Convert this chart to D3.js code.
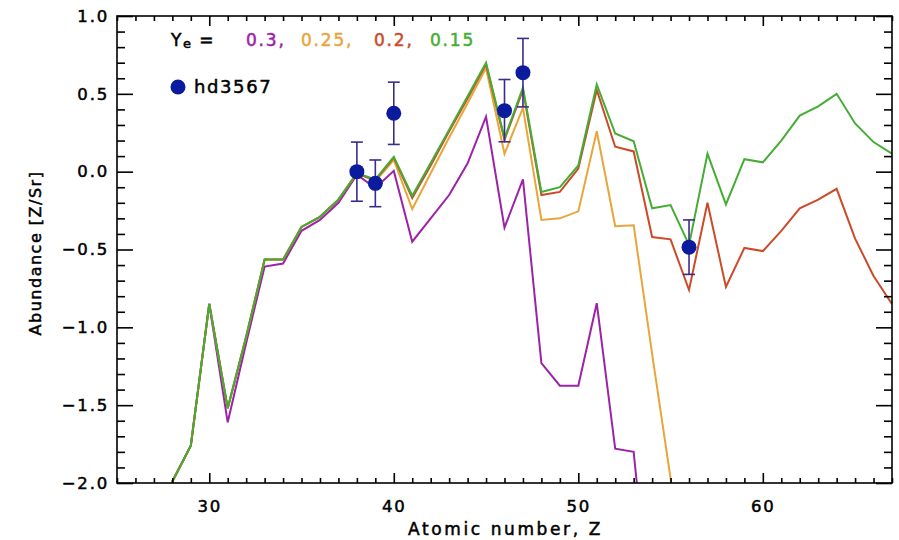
<!DOCTYPE html>
<html>
<head>
<meta charset="utf-8">
<script src="https://cdn.jsdelivr.net/npm/d3@7/dist/d3.min.js"></script>
<style>
  html, body { margin: 0; padding: 0; background: #fff; }
  svg text { font-family: "DejaVu Sans", sans-serif; fill: #000; }
  .heavy { paint-order: stroke; stroke-width: 0.5px; }
</style>
</head>
<body>
<script>
// Atomic number grid shared by all model curves
const atomicNumber = [27, 28, 29, 30, 31, 32, 33, 34, 35, 36, 37, 38, 39, 40, 41, 42, 43, 44, 45, 46, 47,
                      48, 49, 50, 51, 52, 53, 54, 55, 56, 57, 58, 59, 60, 61, 62, 63, 64, 65, 66, 67];

// Model abundance patterns [Z/Sr] for each electron fraction Ye (null = not computed)
const ye030 = [-2.6, -1.99, -1.76, -0.85, -1.61, -1.10, -0.61, -0.59, -0.38, -0.31, -0.20, -0.02, -0.105, 0.005, -0.45, -0.30, -0.15, 0.054, 0.353, -0.36, -0.05,
               -1.23, -1.375, -1.375, -0.845, -1.78, -1.80, -2.98, null, null, null, null, null, null, null, null, null, null, null, null, null];
const ye025 = [-2.6, -1.99, -1.76, -0.85, -1.52, -1.06, -0.565, -0.565, -0.355, -0.29, -0.18, -0.01, -0.06, 0.075, -0.24, -0.01, 0.22, 0.44, 0.665, 0.115, 0.41,
               -0.31, -0.30, -0.255, 0.26, -0.35, -0.345, -1.17, -1.97, -3.0, null, null, null, null, null, null, null, null, null, null, null];
const ye020 = [-2.6, -1.99, -1.76, -0.85, -1.52, -1.06, -0.565, -0.565, -0.355, -0.29, -0.18, -0.01, -0.055, 0.09, -0.17, 0.04, 0.26, 0.47, 0.69, 0.205, 0.525,
               -0.15, -0.13, 0.02, 0.525, 0.16, 0.13, -0.42, -0.435, -0.76, -0.20, -0.74, -0.49, -0.51, -0.38, -0.235, -0.18, -0.11, -0.43, -0.67, -0.85];
const ye015 = [-2.6, -1.99, -1.76, -0.85, -1.52, -1.06, -0.565, -0.565, -0.355, -0.29, -0.18, -0.01, -0.05, 0.095, -0.155, 0.055, 0.27, 0.485, 0.70, 0.215, 0.54,
               -0.13, -0.10, 0.04, 0.56, 0.245, 0.195, -0.235, -0.215, -0.47, 0.115, -0.21, 0.08, 0.06, 0.20, 0.36, 0.42, 0.50, 0.31, 0.19, 0.115];

// Observed abundances of the star hd3567
const obsZ     = [38, 39, 40, 46, 47, 56];
const obsValue = [0.0, -0.075, 0.375, 0.392, 0.636, -0.485];
const obsError = [0.19, 0.15, 0.2, 0.2, 0.22, 0.175];

// Axis ticks and labels
const xMajorTicks = [30, 40, 50, 60];
const yMajorTicks = [1.0, 0.5, 0.0, -0.5, -1.0, -1.5, -2.0];
const yTickLabels = ["1.0", "0.5", "0.0", "\u22120.5", "\u22121.0", "\u22121.5", "\u22122.0"];

const series = [
  { label: "0.3,",  values: ye030, color: "#9c22a8", lx: 246 },
  { label: "0.25,", values: ye025, color: "#e9a53a", lx: 301 },
  { label: "0.2,",  values: ye020, color: "#cc4a28", lx: 374 },
  { label: "0.15",  values: ye015, color: "#45ad35", lx: 430 }
];

const W = 899, H = 540;
const plot = { left: 117, right: 892, top: 16, bottom: 483 };

const x = d3.scaleLinear().domain([25, 67]).range([plot.left, plot.right]);
const y = d3.scaleLinear().domain([-2, 1]).range([plot.bottom, plot.top]);

const svg = d3.select("body").append("svg")
  .attr("width", W).attr("height", H);

svg.append("defs").append("clipPath").attr("id", "plotClip")
  .append("rect")
  .attr("x", plot.left).attr("y", plot.top)
  .attr("width", plot.right - plot.left).attr("height", plot.bottom - plot.top);

// Model curves
const line = d3.line()
  .defined(d => d[1] !== null)
  .x(d => x(d[0]))
  .y(d => y(d[1]));

const curves = svg.append("g").attr("clip-path", "url(#plotClip)");
series.forEach(s => {
  curves.append("path")
    .datum(atomicNumber.map((z, i) => [z, s.values[i]]))
    .attr("d", line)
    .attr("fill", "none")
    .attr("stroke", s.color)
    .attr("stroke-width", 2)
    .attr("stroke-linejoin", "miter");
});

// Observed points with error bars
const obs = obsZ.map((z, i) => ({ z, v: obsValue[i], e: obsError[i] }));
const errColor = "#3d2b8c";
const obsG = svg.append("g");
obsG.selectAll("line.err").data(obs).join("line")
  .attr("x1", d => x(d.z)).attr("x2", d => x(d.z))
  .attr("y1", d => y(d.v + d.e)).attr("y2", d => y(d.v - d.e))
  .attr("stroke", errColor).attr("stroke-width", 1.6);
[1, -1].forEach(sign => {
  obsG.selectAll("line.cap" + sign).data(obs).join("line")
    .attr("x1", d => x(d.z) - 6).attr("x2", d => x(d.z) + 6)
    .attr("y1", d => y(d.v + sign * d.e)).attr("y2", d => y(d.v + sign * d.e))
    .attr("stroke", errColor).attr("stroke-width", 1.6);
});
obsG.selectAll("circle").data(obs).join("circle")
  .attr("cx", d => x(d.z)).attr("cy", d => y(d.v)).attr("r", 7.5)
  .attr("fill", "#0b1b9e");

// Frame with ticks on all four sides
const frame = svg.append("g");
frame.append("rect")
  .attr("x", plot.left).attr("y", plot.top)
  .attr("width", plot.right - plot.left).attr("height", plot.bottom - plot.top)
  .attr("fill", "none").attr("stroke", "#000").attr("stroke-width", 1.6);

const xMinor = d3.range(25, 68, 1).filter(v => !xMajorTicks.includes(v));
const yMinor = d3.range(-20, 11, 1).map(v => v / 10).filter(v => Math.abs(v * 2 - Math.round(v * 2)) > 1e-6);

const bottomAxis = d3.axisBottom(x).tickValues(xMajorTicks).tickFormat(d3.format("d")).tickSize(-10).tickPadding(17);
const topAxis = d3.axisTop(x).tickValues(xMajorTicks).tickFormat("").tickSize(-10);
const bottomMinor = d3.axisBottom(x).tickValues(xMinor).tickFormat("").tickSize(-5);
const topMinor = d3.axisTop(x).tickValues(xMinor).tickFormat("").tickSize(-5);
const leftAxis = d3.axisLeft(y).tickValues(yMajorTicks).tickFormat((d, i) => yTickLabels[i]).tickSize(-16).tickPadding(8);
const rightAxis = d3.axisRight(y).tickValues(yMajorTicks).tickFormat("").tickSize(-16);
const leftMinor = d3.axisLeft(y).tickValues(yMinor).tickFormat("").tickSize(-8);
const rightMinor = d3.axisRight(y).tickValues(yMinor).tickFormat("").tickSize(-8);

function styleAxis(g) {
  g.select(".domain").remove();
  g.selectAll(".tick line").attr("stroke", "#000").attr("stroke-width", 1.6);
  g.selectAll(".tick text").attr("font-size", 16.5).attr("fill", "#000")
    .attr("stroke", "#000").attr("class", "heavy")
    .attr("font-family", "DejaVu Sans, sans-serif").style("letter-spacing", "1.8px");
}

frame.append("g").attr("transform", `translate(0,${plot.bottom})`).call(bottomAxis).call(styleAxis);
frame.append("g").attr("transform", `translate(0,${plot.bottom})`).call(bottomMinor).call(styleAxis);
frame.append("g").attr("transform", `translate(0,${plot.top})`).call(topAxis).call(styleAxis);
frame.append("g").attr("transform", `translate(0,${plot.top})`).call(topMinor).call(styleAxis);
frame.append("g").attr("transform", `translate(${plot.left},0)`).call(leftAxis).call(styleAxis);
frame.append("g").attr("transform", `translate(${plot.left},0)`).call(leftMinor).call(styleAxis);
frame.append("g").attr("transform", `translate(${plot.right},0)`).call(rightAxis).call(styleAxis);
frame.append("g").attr("transform", `translate(${plot.right},0)`).call(rightMinor).call(styleAxis);

// Axis titles
svg.append("text")
  .attr("class", "heavy").attr("stroke", "#000")
  .attr("x", (plot.left + plot.right) / 2 + 1).attr("y", 535)
  .attr("text-anchor", "middle").attr("font-size", 17)
  .style("letter-spacing", "2.6px")
  .text("Atomic number, Z");

svg.append("text")
  .attr("class", "heavy").attr("stroke", "#000")
  .attr("transform", "translate(41,253) rotate(-90)")
  .attr("text-anchor", "middle").attr("font-size", 16)
  .style("letter-spacing", "1.5px")
  .text("Abundance [Z/Sr]");

// Legend: electron fraction of each model curve
const yeLabel = svg.append("text").attr("class", "heavy").attr("stroke", "#000")
  .attr("x", 171).attr("y", 46).attr("font-size", 17)
  .style("letter-spacing", "1.5px");
yeLabel.append("tspan").text("Y");
yeLabel.append("tspan").attr("font-size", 13).attr("dy", 2).text("e");
yeLabel.append("tspan").attr("dy", -2).text("  =");

series.forEach(s => {
  svg.append("text")
    .attr("class", "heavy").attr("stroke", s.color)
    .attr("x", s.lx).attr("y", 46).attr("font-size", 17)
    .style("letter-spacing", "1.8px")
    .attr("fill", s.color).style("fill", s.color)
    .text(s.label);
});

// Legend: observed star
svg.append("circle").attr("cx", 178).attr("cy", 87).attr("r", 7.5).attr("fill", "#0b1b9e");
svg.append("text").attr("class", "heavy").attr("stroke", "#000")
  .attr("x", 194).attr("y", 93).attr("font-size", 18)
  .style("letter-spacing", "1.6px")
  .text("hd3567");
</script>
</body>
</html>
